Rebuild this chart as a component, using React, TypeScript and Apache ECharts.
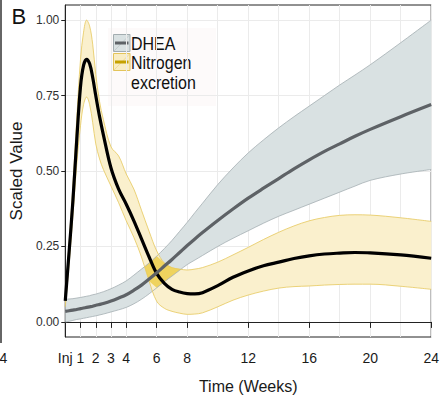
import React, { useEffect, useRef } from "react";
import * as echarts from "echarts";

// ---------- data ----------
const weeks = [0, 0.25, 0.5, 0.75, 1, 1.2, 1.4, 1.6, 1.8, 2, 2.25, 2.5, 3, 3.5, 4, 4.5, 5, 5.5, 6, 6.5, 7, 7.5, 8, 8.5, 9, 10, 11, 12, 13, 14, 15, 16, 17, 18, 19, 20, 22, 24];

const dheaMean = [0.035, 0.037, 0.039, 0.041, 0.044, 0.046, 0.048, 0.05, 0.052, 0.055, 0.058, 0.061, 0.069, 0.079, 0.09, 0.105, 0.122, 0.142, 0.163, 0.185, 0.207, 0.23, 0.253, 0.275, 0.296, 0.336, 0.374, 0.41, 0.443, 0.475, 0.507, 0.537, 0.565, 0.59, 0.615, 0.638, 0.68, 0.72];
const dheaUpper = [0.075, 0.076, 0.077, 0.079, 0.081, 0.083, 0.085, 0.087, 0.09, 0.092, 0.096, 0.1, 0.11, 0.122, 0.136, 0.155, 0.175, 0.195, 0.218, 0.243, 0.27, 0.3, 0.33, 0.362, 0.393, 0.455, 0.51, 0.56, 0.603, 0.643, 0.68, 0.715, 0.75, 0.785, 0.818, 0.852, 0.925, 1.0];
const dheaLower = [0.0, 0.002, 0.005, 0.008, 0.01, 0.012, 0.014, 0.016, 0.018, 0.02, 0.023, 0.026, 0.033, 0.04, 0.048, 0.06, 0.075, 0.093, 0.113, 0.133, 0.152, 0.171, 0.19, 0.205, 0.22, 0.25, 0.277, 0.302, 0.327, 0.35, 0.37, 0.39, 0.41, 0.43, 0.45, 0.469, 0.49, 0.505];

const nitroMean = [0.07, 0.23, 0.4, 0.6, 0.78, 0.85, 0.87, 0.855, 0.81, 0.75, 0.68, 0.62, 0.51, 0.44, 0.39, 0.335, 0.275, 0.215, 0.16, 0.128, 0.108, 0.099, 0.094, 0.093, 0.097, 0.12, 0.148, 0.169, 0.186, 0.198, 0.21, 0.219, 0.225, 0.228, 0.23, 0.229, 0.222, 0.211];
const nitroUpper = [0.09, 0.26, 0.45, 0.67, 0.87, 0.96, 1.0, 0.98, 0.92, 0.82, 0.73, 0.67, 0.58, 0.55, 0.49, 0.44, 0.37, 0.3, 0.235, 0.195, 0.18, 0.175, 0.172, 0.175, 0.18, 0.198, 0.222, 0.247, 0.273, 0.297, 0.318, 0.335, 0.346, 0.353, 0.355, 0.354, 0.345, 0.333];
const nitroLower = [0.05, 0.19, 0.35, 0.52, 0.65, 0.72, 0.745, 0.72, 0.66, 0.59, 0.54, 0.505, 0.45, 0.395, 0.335, 0.28, 0.215, 0.135, 0.068, 0.045, 0.035, 0.029, 0.025, 0.026, 0.03, 0.05, 0.072, 0.089, 0.102, 0.112, 0.117, 0.119, 0.122, 0.124, 0.125, 0.125, 0.118, 0.108];

const xTickValues = [0, 1, 2, 3, 4, 6, 8, 12, 16, 20, 24];
const xTickLabels = ["Inj", "1", "2", "3", "4", "6", "8", "12", "16", "20", "24"];
const yTickValues = [0, 0.25, 0.5, 0.75, 1];
const yTickLabels = ["0.00", "0.25", "0.50", "0.75", "1.00"];
const legendLabels = ["DHEA", "Nitrogen", "excretion"];

// ---------- styles ----------
const SANS = "'Liberation Sans', Arial, Helvetica, sans-serif";
const SM = 0.35;
const DHEA_FILL = "#d9e1e2";
const DHEA_EDGE = "#a5afb2";
const DHEA_LINE = "#5e6266";
const N_FILL = "#faf0cd";
const N_EDGE = "#e6c85c";
const N_LINE = "#000000";
const OVERLAP = "#efd35e";
const GRID = "#ebebeb";

function pairs(v: number[]) {
  return weeks.map((w, i) => [w, v[i]]);
}

function band(name: string, lower: number[], upper: number[], fill: string, z: number) {
  const stack = name + "-band";
  return [
    {
      type: "line", name: name + "-lower", stack, smooth: SM, symbol: "none", silent: true, z,
      encode: { x: 1, y: 0 },
      data: weeks.map((w, i) => [lower[i], w]),
      lineStyle: { width: 0, opacity: 0 },
    },
    {
      type: "line", name: name + "-band", stack, smooth: SM, symbol: "none", silent: true, z,
      encode: { x: 1, y: 0 },
      data: weeks.map((w, i) => [+(upper[i] - lower[i]).toFixed(4), w]),
      lineStyle: { width: 0, opacity: 0 },
      areaStyle: { color: fill, opacity: 1 },
    },
  ];
}

function edge(v: number[], color: string) {
  return {
    type: "line", smooth: SM, symbol: "none", silent: true, z: 5,
    data: pairs(v), lineStyle: { color, width: 0.8 },
  };
}

// overlap regions of the two bands (where both ribbons cover the same area)
function overlapPolygons(): number[][][] {
  const polys: number[][][] = [];
  let top: number[][] = [];
  let bottom: number[][] = [];
  let prev: { lo: number; hi: number } | null = null;
  for (let i = 0; i < weeks.length; i++) {
    const lo = Math.max(nitroLower[i], dheaLower[i]);
    const hi = Math.min(nitroUpper[i], dheaUpper[i]);
    const d = hi - lo;
    if (prev) {
      const pd = prev.hi - prev.lo;
      if ((pd < 0) !== (d < 0)) {
        const t = pd / (pd - d);
        const w = weeks[i - 1] + t * (weeks[i] - weeks[i - 1]);
        const v = prev.lo + t * (lo - prev.lo);
        top.push([w, v]);
        bottom.push([w, v]);
        if (d < 0) {
          polys.push(top.concat(bottom.slice().reverse()));
          top = [];
          bottom = [];
        }
      }
    }
    if (d >= 0) {
      top.push([weeks[i], hi]);
      bottom.push([weeks[i], lo]);
    }
    prev = { lo, hi };
  }
  if (top.length) polys.push(top.concat(bottom.slice().reverse()));
  return polys;
}

const overlaps = overlapPolygons();

function legendText(text: string, x: number, y: number) {
  return {
    type: "text", x, y, scaleY: 1.18,
    style: {
      text, fontSize: 16, fontFamily: SANS, fill: "#111",
      align: "left", verticalAlign: "middle", textAlign: "left", textVerticalAlign: "middle",
    },
  };
}

function buildOption() {
  return {
    animation: false,
    backgroundColor: "#ffffff",
    grid: { left: 60, right: 9, top: 5, bottom: 67, show: true, borderColor: "#222", borderWidth: 1 },
    xAxis: [
      {
        type: "value", min: 0, max: 24,
        axisLine: { show: true, lineStyle: { color: "#222", width: 1 } },
        axisTick: { show: true, customValues: xTickValues, length: 6, lineStyle: { color: "#222", width: 1 } },
        axisLabel: {
          customValues: xTickValues, showMinLabel: true, showMaxLabel: true,
          formatter: (v: number) => {
            const k = xTickValues.indexOf(v);
            return k >= 0 ? xTickLabels[k] : String(v);
          },
          fontSize: 14, fontFamily: SANS, color: "#1a1a1a", margin: 14,
        },
        splitLine: { show: true, lineStyle: { color: GRID, width: 1 } },
        name: "Time (Weeks)", nameLocation: "middle", nameGap: 41,
        nameTextStyle: { fontSize: 16, fontFamily: SANS, color: "#1a1a1a" },
      },
      {
        type: "value", min: 0, max: 24, interval: 2, position: "bottom",
        axisLine: { show: false }, axisTick: { show: false }, axisLabel: { show: false },
        splitLine: { show: true, lineStyle: { color: GRID, width: 1 } },
      },
    ],
    yAxis: {
      type: "value", min: -0.05, max: 1.05,
      axisLine: { show: true, lineStyle: { color: "#222", width: 1 } },
      axisTick: { show: true, customValues: yTickValues, length: 4, lineStyle: { color: "#222", width: 1 } },
      axisLabel: {
        customValues: yTickValues, showMinLabel: true, showMaxLabel: true,
        formatter: (v: number) => {
          const k = yTickValues.findIndex((t) => Math.abs(t - v) < 1e-9);
          return k >= 0 ? yTickLabels[k] : String(v);
        },
        fontSize: 12, fontFamily: SANS, color: "#303030", margin: 6,
      },
      splitLine: { show: true, lineStyle: { color: GRID, width: 1 } },
      name: "Scaled Value", nameLocation: "middle", nameGap: 38,
      nameTextStyle: { fontSize: 17, fontFamily: SANS, color: "#1a1a1a" },
    },
    series: [
      ...band("dhea", dheaLower, dheaUpper, DHEA_FILL, 2),
      ...band("nitro", nitroLower, nitroUpper, N_FILL, 3),
      {
        type: "custom", silent: true, z: 4,
        data: overlaps.map((p, i) => [p[0][0], p[0][1], i]),
        renderItem: (params: any, api: any) => {
          const poly = overlaps[params.dataIndex];
          return {
            type: "polygon",
            shape: { points: poly.map((p) => api.coord(p)) },
            style: { fill: OVERLAP },
          };
        },
      },
      edge(dheaLower, DHEA_EDGE),
      edge(dheaUpper, DHEA_EDGE),
      edge(nitroLower, N_EDGE),
      edge(nitroUpper, N_EDGE),
      {
        type: "line", name: "Nitrogen excretion", smooth: SM, symbol: "none", silent: true, z: 6,
        data: pairs(nitroMean), lineStyle: { color: N_LINE, width: 3.2 },
      },
      {
        type: "line", name: "DHEA", smooth: SM, symbol: "none", silent: true, z: 7,
        data: pairs(dheaMean), lineStyle: { color: DHEA_LINE, width: 3.2 },
      },
    ],
    graphic: [
      { type: "line", shape: { x1: 1, y1: 0, x2: 1, y2: 343 }, style: { stroke: "#333", lineWidth: 1.5 } },
      {
        type: "text", x: 11.5, y: 16,
        style: { text: "B", fontSize: 22, fontFamily: SANS, fill: "#111", align: "left", verticalAlign: "middle", textAlign: "left", textVerticalAlign: "middle" },
      },
      {
        type: "text", x: -0.5, y: 358,
        style: { text: "4", fontSize: 14, fontFamily: SANS, fill: "#1a1a1a", align: "left", verticalAlign: "middle", textAlign: "left", textVerticalAlign: "middle" },
      },
      {
        type: "group", z: 20,
        children: [
          { type: "rect", shape: { x: 108, y: 28, width: 108, height: 78 }, style: { fill: "#fdfafa" } },
          { type: "rect", shape: { x: 113.5, y: 34.5, width: 16.5, height: 17 }, style: { fill: DHEA_FILL, stroke: "#a3adb0", lineWidth: 1 } },
          { type: "line", shape: { x1: 113.5, y1: 51.5, x2: 130, y2: 34.5 }, style: { stroke: "#b3bcbe", lineWidth: 0.6 } },
          { type: "line", shape: { x1: 115, y1: 43, x2: 128.5, y2: 43 }, style: { stroke: DHEA_LINE, lineWidth: 3 } },
          { type: "rect", shape: { x: 113.5, y: 53.5, width: 16.5, height: 17 }, style: { fill: "#f9edc4", stroke: "#e3c45a", lineWidth: 1 } },
          { type: "line", shape: { x1: 113.5, y1: 70.5, x2: 130, y2: 53.5 }, style: { stroke: "#e8cf7d", lineWidth: 0.6 } },
          { type: "line", shape: { x1: 115, y1: 62, x2: 128.5, y2: 62 }, style: { stroke: "#c5a100", lineWidth: 3 } },
          legendText(legendLabels[0], 131, 43.5),
          legendText(legendLabels[1], 131, 62.5),
          legendText(legendLabels[2], 131, 83),
        ],
      },
    ],
  };
}

export default function App() {
  const ref = useRef<HTMLDivElement>(null);
  useEffect(() => {
    if (!ref.current) return;
    const chart = echarts.init(ref.current, null, { renderer: "svg" });
    chart.setOption(buildOption() as any);
    return () => chart.dispose();
  }, []);
  return (
    <div
      ref={ref}
      style={{ position: "absolute", left: 0, top: 0, width: 442, height: 404, background: "#fff" }}
    />
  );
}
